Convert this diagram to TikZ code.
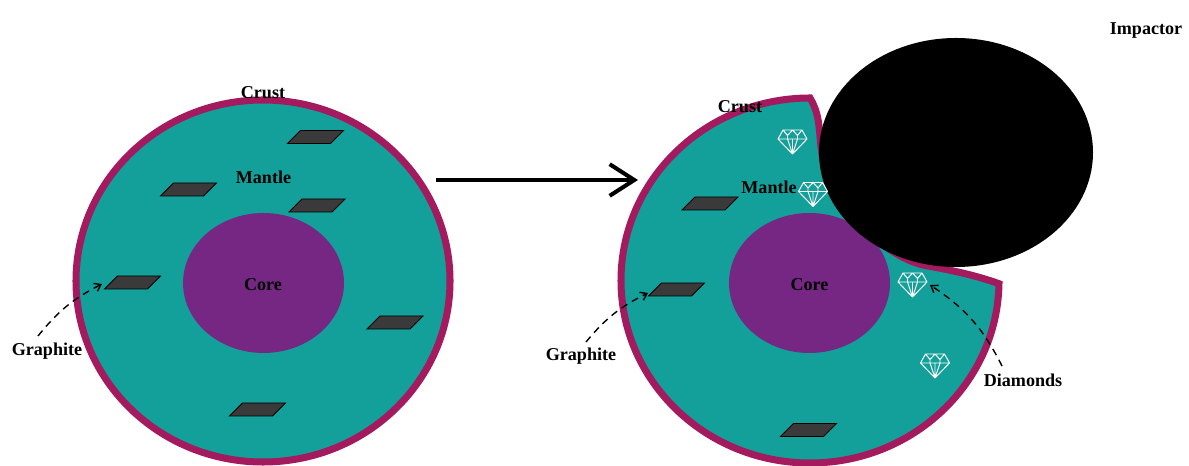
\documentclass[tikz,border=0pt]{standalone}
\usepackage{fontspec}
\setmainfont{Liberation Serif}
\usetikzlibrary{arrows.meta}

\definecolor{mantleteal}{RGB}{19,160,154}
\definecolor{crustred}{RGB}{163,26,94}
\definecolor{corepurple}{RGB}{118,39,131}
\definecolor{flakegray}{RGB}{58,58,58}

\tikzset{
  lbl/.style={font=\fontsize{10.3}{12}\selectfont\bfseries, inner sep=0pt},
  rim/.style={draw=crustred, line width=4pt, fill=mantleteal},
  corefill/.style={fill=corepurple},
  pointer/.style={line width=0.8pt, dash pattern=on 4pt off 3pt,
    -{Straight Barb[length=3.5pt,width=5pt]}},
  bigarrow/.style={line width=2.3pt, -{Straight Barb[length=14pt,width=18pt]}},
  flake/.pic={
    \draw[fill=flakegray, draw=black, line width=0.5pt]
      (-28,-6.5) -- (15,-6.5) -- (28,6.5) -- (-15,6.5) -- cycle;
  },
  gem/.pic={
    \draw[white, line width=0.55pt, line join=round]
      (-9.5,12) -- (9.5,12) -- (14.5,3) -- (0,-12) -- (-14.5,3) -- cycle
      (-14.5,3) -- (14.5,3)
      (-9.5,12) -- (-5,6.5) -- (0,12) -- (5,6.5) -- (9.5,12)
      (-5,6.5) -- (-5,3) (5,6.5) -- (5,3)
      (-5,3) -- (0,-12) -- (5,3)
      (0,3) -- (0,-12);
  }
}

\begin{document}
\begin{tikzpicture}[x=0.02cm, y=0.02cm]
\useasboundingbox (0,0) rectangle (1189,466);

% ---- planet before the impact ----
\draw[rim] (263,185) ellipse [x radius=187, y radius=181];
\fill[corefill] (263.5,183) ellipse [x radius=80.5, y radius=70];
\pic at (315.5,329) {flake};
\pic at (188.5,276.5) {flake};
\pic at (317,260.5) {flake};
\pic at (132.5,183.5) {flake};
\pic at (395,143.5) {flake};
\pic at (257.5,56.5) {flake};

\node[lbl] (crustL)  at (263,373)   {Crust};
\node[lbl] (mantleL) at (263.5,289) {Mantle};
\node[lbl] (coreL)   at (263,181)   {Core};
\node[lbl] (graphL)  at (47,115)    {Graphite};
\coordinate (graphLtail) at (38,130);
\coordinate (graphLtip)  at (102,182);
\draw[pointer] (graphLtail) to[bend left=12] (graphLtip);

% ---- transition arrow ----
\coordinate (stepFrom) at (436,286);
\coordinate (stepTo)   at (638,286);
\draw[bigarrow] (stepFrom) -- (stepTo);

% ---- planet after the impact, with its crater ----
\draw[rim, line join=miter]
  (810,368) arc[start angle=90, end angle=359, x radius=189, y radius=182.5]
  .. controls (975,191) and (950,196) .. (928,200)
  .. controls (890,206) and (840,251) .. (823,306)
  .. controls (818,331) and (822,348) .. cycle;
\fill[corefill] (809.5,183) ellipse [x radius=80.5, y radius=70];
\pic at (710,262.5) {flake};
\pic at (676.5,176.5) {flake};
\pic at (808.5,36) {flake};

% impactor
\fill[black] (956,313.5) ellipse [x radius=137, y radius=114.5];

% diamonds formed by the shock
\pic at (792.5,324) {gem};
\pic at (813,271.5) {gem};
\pic at (912.5,181) {gem};
\pic at (935,100) {gem};

\node[lbl] (crustR)  at (740,359)   {Crust};
\node[lbl] (mantleR) at (769,279)   {Mantle};
\node[lbl] (coreR)   at (809.5,181) {Core};
\node[lbl] (graphR)  at (581,110)   {Graphite};
\node[lbl] (diamR)   at (1023,86)   {Diamonds};
\node[lbl] (impR)    at (1146,435)  {Impactor};

\coordinate (graphRtail) at (586,124);
\coordinate (graphRtip)  at (648,173);
\draw[pointer] (graphRtail) to[bend left=12] (graphRtip);

\coordinate (diamRtail) at (1002,100);
\coordinate (diamRtip)  at (930,181);
\draw[pointer] (diamRtail) to[bend right=15] (diamRtip);
\end{tikzpicture}
\end{document}
